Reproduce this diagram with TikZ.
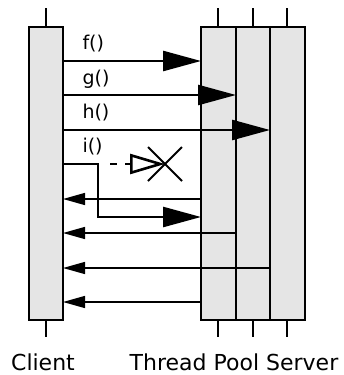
\documentclass[tikz,border=0pt]{standalone}
\usepackage{fontspec}
\setmainfont{DejaVu Sans}
\usetikzlibrary{arrows.meta}
\tikzset{
  bar/.style={draw, line width=2pt, fill=black!10},
  tick/.style={line width=2pt},
  call/.style={line width=2.6pt, -{Triangle[length=38pt,width=20pt]}},
  lost/.style={line width=2.6pt, dash pattern=on 7pt off 8pt, -{Triangle[open,length=35pt,width=20pt]}},
  reply/.style={line width=1.4pt, -{Triangle[length=22pt,width=12pt]}},
  msg/.style={anchor=base west, font=\fontsize{19}{22}\selectfont},
  actor/.style={anchor=base, font=\fontsize{22}{26}\selectfont}
}
\begin{document}
\begin{tikzpicture}[x=1pt,y=-1pt]
\useasboundingbox (0,0) rectangle (343,375);

\draw[tick] (46,8) -- (46,27) (46,320) -- (46,337);
\foreach \x in {218,253,287}
  \draw[tick] (\x,8) -- (\x,27) (\x,320) -- (\x,337);

\draw[bar] (29,27) rectangle (63,320);
\draw[bar] (201,27) rectangle (236,320);
\draw[bar] (236,27) rectangle (270,320);
\draw[bar] (270,27) rectangle (305,320);

\coordinate (fA) at (63,61);   \coordinate (fB) at (201,61);
\coordinate (gA) at (63,95);   \coordinate (gB) at (236,95);
\coordinate (hA) at (63,130);  \coordinate (hB) at (270,130);
\coordinate (iA) at (63,164);  \coordinate (iC) at (98,164);
\coordinate (iD) at (98,217);  \coordinate (iB) at (201,217);
\coordinate (iE) at (110,164); \coordinate (iX) at (165,164);

\draw[call] (fA) -- (fB);
\draw[call] (gA) -- (gB);
\draw[call] (hA) -- (hB);
\draw[call] (iA) -- (iC) -- (iD) -- (iB);
\draw[lost] (iE) -- (iX);
\draw[line width=2pt] (iX) +(-17,-17) -- +(17,17) (iX) +(-17,17) -- +(17,-17);

\node[msg] (fl) at (79,49) {f()};
\node[msg] (gl) at (79,84) {g()};
\node[msg] (hl) at (79,118) {h()};
\node[msg] (il) at (79,152) {i()};

\coordinate (rA) at (201,199); \coordinate (rAc) at (63,199);
\coordinate (rB) at (236,233); \coordinate (rBc) at (63,233);
\coordinate (rC) at (270,268); \coordinate (rCc) at (63,268);
\coordinate (rD) at (201,302); \coordinate (rDc) at (63,302);

\draw[reply] (rA) -- (rAc);
\draw[reply] (rB) -- (rBc);
\draw[reply] (rC) -- (rCc);
\draw[reply] (rD) -- (rDc);

\node[actor] (client) at (43,370) {Client};
\node[actor] (server) at (234,370) {Thread Pool Server};
\end{tikzpicture}
\end{document}
